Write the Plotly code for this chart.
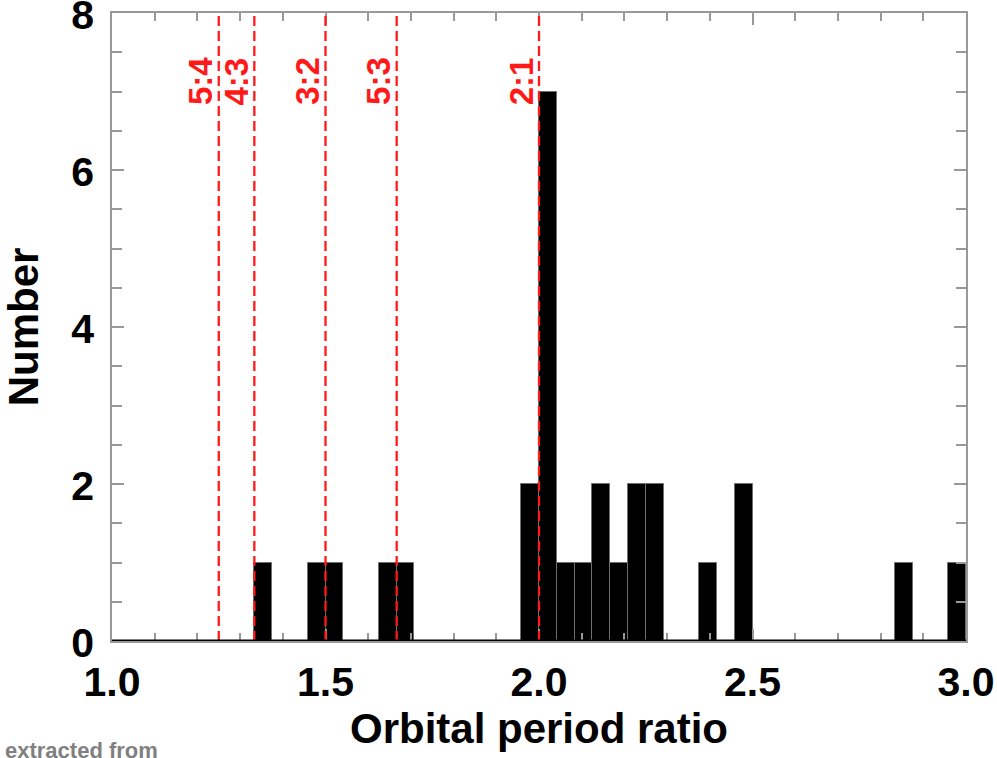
import plotly.graph_objects as go

# ---- data ----
bin_start = 1.0
bin_width = 1.0 / 24.0
counts = [0, 0, 0, 0, 0, 0, 0, 0, 1, 0, 0, 1,
          1, 0, 0, 1, 1, 0, 0, 0, 0, 0, 0, 2,
          7, 1, 1, 2, 1, 2, 2, 0, 0, 1, 0, 2,
          0, 0, 0, 0, 0, 0, 0, 0, 1, 0, 0, 1]
resonances = [5/4, 4/3, 3/2, 5/3, 2.0]
resonance_labels = ["5:4", "4:3", "3:2", "5:3", "2:1"]
x_ticks = [1.0, 1.5, 2.0, 2.5, 3.0]
x_tick_labels = ["1.0", "1.5", "2.0", "2.5", "3.0"]
y_ticks = [0, 2, 4, 6, 8]

centers = [bin_start + (i + 0.5) * bin_width for i in range(len(counts))]

FONT = "Liberation Sans, Arial, Helvetica, sans-serif"
GRAY = "#999999"

fig = go.Figure()
fig.add_trace(go.Bar(
    x=centers, y=counts, width=bin_width,
    marker=dict(color="black", line=dict(color="#6e6e6e", width=1)),
    showlegend=False, hoverinfo="x+y",
))

# resonance lines
for r, lab in zip(resonances, resonance_labels):
    fig.add_shape(type="line", x0=r, x1=r, y0=0, y1=1, xref="x", yref="paper",
                  line=dict(color="#ff1a1a", width=2.3, dash="10px,5px"), layer="above")
    fig.add_annotation(x=r, y=7.13, xref="x", yref="y", text=lab, showarrow=False,
                       textangle=-90, xshift=-18,
                       font=dict(family=FONT, size=33, color="#ff1a1a", weight="bold"))

# thick baseline
fig.add_shape(type="line", x0=0, x1=1, y0=0, y1=0, xref="paper", yref="y",
              line=dict(color="black", width=3), layer="above")

fig.add_annotation(x=-0.1276, y=-0.152, xref="paper", yref="paper",
                   text="extracted from", showarrow=False, xanchor="left", yanchor="top",
                   font=dict(family=FONT, size=22, color="#808080", weight="bold"))

fig.update_layout(
    width=997, height=758,
    margin=dict(l=112, r=31, t=13, b=117),
    plot_bgcolor="white", paper_bgcolor="white",
    bargap=0,
    font=dict(family=FONT, color="black"),
)
fig.update_xaxes(
    range=[1.0, 3.0], tickvals=x_ticks, ticktext=x_tick_labels,
    ticks="inside", ticklen=12, tickcolor=GRAY, tickwidth=1.5,
    minor=dict(dtick=0.1, ticks="inside", ticklen=8, tickcolor=GRAY, tickwidth=1.5),
    showline=True, linecolor=GRAY, linewidth=1.5, mirror="ticks",
    showgrid=False, zeroline=False, automargin=False,
    tickfont=dict(family=FONT, size=41, color="black", weight="bold"),
    ticklabelstandoff=4, ticklabeloverflow="allow",
    title=dict(text="Orbital period ratio", standoff=0,
               font=dict(family=FONT, size=42, color="black", weight="bold")),
)
fig.update_yaxes(
    range=[0, 8], tickvals=y_ticks,
    ticks="inside", ticklen=12, tickcolor=GRAY, tickwidth=1.5,
    minor=dict(dtick=0.5, ticks="inside", ticklen=10, tickcolor=GRAY, tickwidth=1.5),
    showline=True, linecolor=GRAY, linewidth=1.5, mirror="ticks",
    showgrid=False, zeroline=False, automargin=False,
    tickfont=dict(family=FONT, size=41, color="black", weight="bold"),
    ticklabelstandoff=8, ticklabelshift=2, ticklabeloverflow="allow",
    title=dict(text="Number", standoff=30,
               font=dict(family=FONT, size=42, color="black", weight="bold")),
)

# remove the default 8px page margin so the figure sits at the window origin
fig.write_html("out.html",
               config={"displayModeBar": False},
               post_script="document.body.style.margin='0';document.body.style.overflow='hidden';")
